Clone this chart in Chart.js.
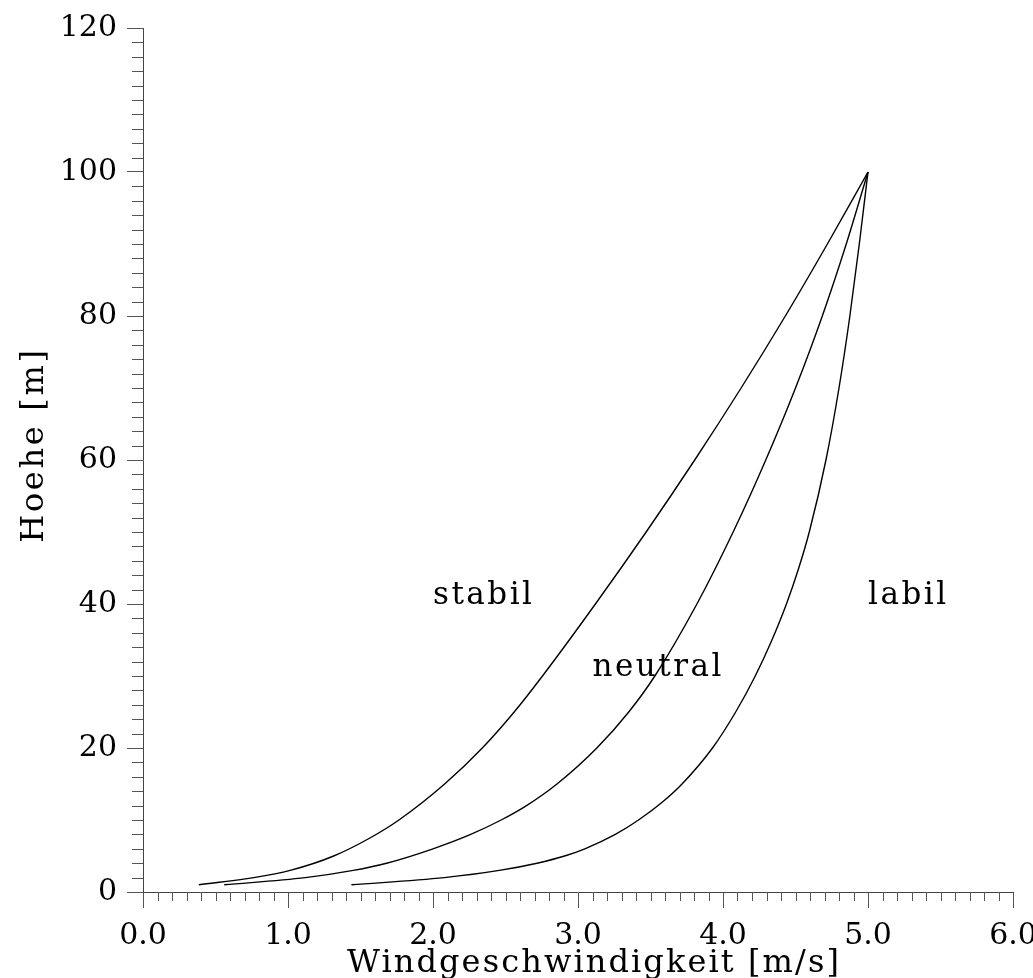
<!DOCTYPE html>
<html>
<head>
<meta charset="utf-8">
<title>Windprofil</title>
<script src="https://cdn.jsdelivr.net/npm/chart.js@4.4.1/dist/chart.umd.min.js"></script>
<style>
  html, body { margin: 0; padding: 0; background: #fff; overflow: hidden; }
  #wrap { width: 1080px; height: 1000px; }
</style>
</head>
<body>
<div id="wrap"><canvas id="windChart" width="1080" height="1000"></canvas></div>
<script>
// wind profile data (u in m/s at height z in m)
const stabilZ = [1, 2, 3, 5, 7.5, 10, 15, 20, 25, 30, 40, 50, 60, 70, 80, 90, 100];
const stabilU = [0.385, 0.765, 1.015, 1.315, 1.565, 1.765, 2.08, 2.34, 2.56, 2.755, 3.12, 3.47, 3.805, 4.125, 4.43, 4.72, 5.00];

const neutralZ = [1, 2, 3, 4, 6, 8, 10, 12, 15, 20, 25, 30, 40, 50, 60, 70, 80, 90, 100];
const neutralU = [0.56, 1.12, 1.45, 1.68, 2.00, 2.26, 2.47, 2.645, 2.855, 3.13, 3.35, 3.53, 3.82, 4.07, 4.295, 4.50, 4.685, 4.85, 5.00];

const labilZ = [1, 2, 3, 4, 5, 6, 8, 10, 12.5, 15, 20, 25, 30, 35, 40, 45, 50, 60, 70, 80, 90, 100];
const labilU = [1.4375, 2.0775, 2.4575, 2.7175, 2.9075, 3.0475, 3.2575, 3.4175, 3.5825, 3.7175, 3.9275, 4.0875, 4.2225, 4.3375, 4.4375, 4.5225, 4.595, 4.71, 4.80, 4.875, 4.94, 5.00];

// curve names written into the plot, at data coordinates
const curveNames = ['stabil', 'neutral', 'labil'];
const nameU = [2.0, 3.1, 5.0];
const nameZ = [40, 30, 40];

const xTickValues = [0, 1, 2, 3, 4, 5, 6];
const yTickValues = [0, 20, 40, 60, 80, 100, 120];

const FONT = '"DejaVu Serif", "Liberation Serif", serif';
const toPoints = (us, zs) => us.map((u, i) => ({ x: u, y: zs[i] }));

// minor ticks, curve names and axis titles
const extrasPlugin = {
  id: 'extras',
  afterDraw(chart) {
    const { ctx, scales: { x, y } } = chart;
    ctx.save();
    ctx.strokeStyle = '#555';
    ctx.lineWidth = 1;
    ctx.beginPath();
    for (let i = 1; i < 60; i++) {
      if (i % 10 === 0) continue;
      const px = Math.round(x.getPixelForValue(i / 10)) + 0.5;
      ctx.moveTo(px, y.bottom);
      ctx.lineTo(px, y.bottom + 9);
    }
    for (let v = 2; v < 120; v += 2) {
      if (v % 20 === 0) continue;
      const py = Math.round(y.getPixelForValue(v)) + 0.5;
      ctx.moveTo(x.left, py);
      ctx.lineTo(x.left - 11, py);
    }
    ctx.stroke();

    ctx.fillStyle = '#000';
    ctx.font = '31px ' + FONT;
    ctx.letterSpacing = '2.5px';
    ctx.textAlign = 'left';
    ctx.textBaseline = 'alphabetic';
    curveNames.forEach((name, i) => {
      ctx.fillText(name, x.getPixelForValue(nameU[i]), y.getPixelForValue(nameZ[i]));
    });

    ctx.font = '32px ' + FONT;
    ctx.letterSpacing = '2.1px';
    ctx.textAlign = 'center';
    ctx.fillText('Windgeschwindigkeit [m/s]', 594, 972);
    ctx.letterSpacing = '2.7px';
    ctx.translate(43, 445);
    ctx.rotate(-Math.PI / 2);
    ctx.fillText('Hoehe [m]', 0, 0);
    ctx.restore();
  }
};

const line = (data) => ({
  data,
  borderColor: '#000',
  borderWidth: 1.4,
  pointRadius: 0,
  fill: false,
  cubicInterpolationMode: 'monotone'
});

new Chart(document.getElementById('windChart'), {
  type: 'line',
  data: {
    datasets: [
      line(toPoints(stabilU, stabilZ)),
      line(toPoints(neutralU, neutralZ)),
      line(toPoints(labilU, labilZ))
    ]
  },
  options: {
    responsive: false,
    animation: false,
    devicePixelRatio: 1,
    layout: { padding: { top: 24, right: 67, left: 0, bottom: 0 } },
    plugins: { legend: { display: false }, tooltip: { enabled: false } },
    scales: {
      x: {
        type: 'linear', min: 0, max: 6,
        afterBuildTicks: s => { s.ticks = xTickValues.map(v => ({ value: v })); },
        afterFit: s => { s.height = 108; },
        grid: { drawOnChartArea: false, tickLength: 16, color: '#555' },
        border: { color: '#444', width: 1 },
        ticks: { color: '#000', padding: 10, maxRotation: 0, autoSkip: false,
          font: { family: FONT, size: 30 }, callback: v => v.toFixed(1) }
      },
      y: {
        type: 'linear', min: 0, max: 120,
        afterBuildTicks: s => { s.ticks = yTickValues.map(v => ({ value: v })); },
        afterFit: s => { s.width = 143; },
        grid: { drawOnChartArea: false, tickLength: 16, color: '#555' },
        border: { color: '#444', width: 1 },
        ticks: { color: '#000', padding: 10, autoSkip: false,
          font: { family: FONT, size: 30 }, callback: v => String(v) }
      }
    }
  },
  plugins: [extrasPlugin]
});
</script>
</body>
</html>
